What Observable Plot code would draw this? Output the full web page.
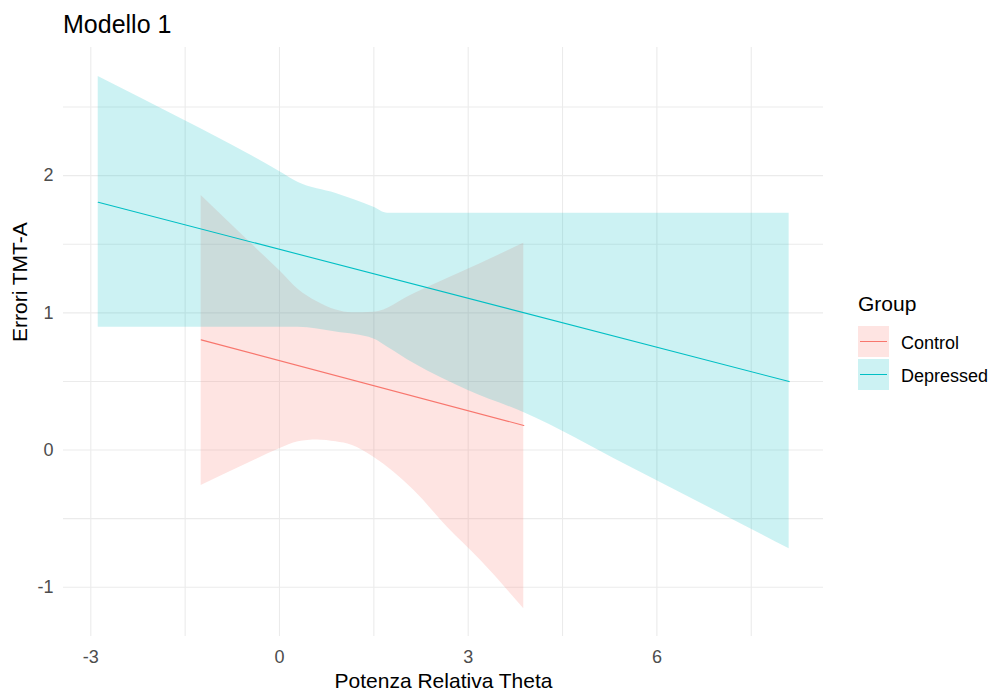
<!DOCTYPE html>
<html>
<head>
<meta charset="utf-8">
<script src="https://cdn.jsdelivr.net/npm/d3@7"></script>
<script src="https://cdn.jsdelivr.net/npm/@observablehq/plot@0.6"></script>
<style>
  html, body { margin: 0; padding: 0; background: #fff; }
  #chart { position: relative; width: 995px; height: 690px; font-family: "Liberation Sans", Arial, sans-serif; }
  #chart svg { position: absolute; left: 0; top: 0; }
  .title { position: absolute; left: 63px; top: 10px; font-size: 25px; color: #000; white-space: nowrap; }
  .legend-title { position: absolute; left: 858px; top: 292px; font-size: 21px; color: #000; }
  .key { position: absolute; left: 858px; width: 31px; height: 31px; }
  .key i { position: absolute; left: 2px; right: 2px; top: 15px; height: 1.2px; }
  .key-label { position: absolute; left: 901px; font-size: 18px; color: #000; white-space: nowrap; }
</style>
</head>
<body>
<div id="chart">
  <div class="title">Modello 1</div>
</div>
<script>
// Group names and colours (ggplot2 default hue palette)
const groups = ["Control", "Depressed"];
const groupColors = ["#F8766D", "#00BFC4"];

// Fitted regression lines: endpoints of each group's x range
const controlLineX = [-1.245, 3.884];
const controlLineY = [0.803, 0.179];
const depressedLineX = [-2.882, 8.103];
const depressedLineY = [1.806, 0.499];

// Confidence band, Control group
const controlBandX = [-1.245, -0.5, 0, 0.3, 0.6, 0.9, 1.15, 1.5, 2.14, 2.67, 3.2, 3.884];
const controlUpper = [1.855, 1.527, 1.308, 1.17, 1.08, 1.02, 1.0, 1.005, 1.14, 1.25, 1.36, 1.507];
const controlLower = [-0.259, -0.096, 0.009, 0.06, 0.074, 0.06, 0.035, -0.052, -0.295, -0.563, -0.805, -1.157];

// Confidence band, Depressed group
const depressedBandX = [-2.882, -1.5, -0.5, 0, 0.3, 0.9, 1.5, 1.72, 2.14, 3.0, 3.9, 5.5, 8.103];
const depressedUpper = [2.723, 2.40, 2.16, 2.03, 1.95, 1.87, 1.77, 1.726, 1.726, 1.726, 1.726, 1.726, 1.726];
const depressedLower = [0.895, 0.895, 0.895, 0.895, 0.895, 0.86, 0.81, 0.75, 0.63, 0.434, 0.27, -0.105, -0.72];

// Axis ticks and grid lines
const xTicks = [-3, 0, 3, 6];
const xGrid = [-3, -1.5, 0, 1.5, 3, 4.5, 6, 7.5];
const yTicks = [-1, 0, 1, 2];
const yGrid = [-1, -0.5, 0, 0.5, 1, 1.5, 2, 2.5];

const band = (xs, lo, hi) => xs.map((x, i) => ({x, lo: lo[i], hi: hi[i]}));
const line = (xs, ys) => xs.map((x, i) => ({x, y: ys[i]}));

const depBand = band(depressedBandX, depressedLower, depressedUpper);
const ctlBand = band(controlBandX, controlLower, controlUpper);
const depLine = line(depressedLineX, depressedLineY);
const ctlLine = line(controlLineX, controlLineY);

const font = "'Liberation Sans', Arial, sans-serif";
const fmt = d => String(d);

const plot = Plot.plot({
  width: 995,
  height: 690,
  marginLeft: 63,
  marginRight: 172,
  marginTop: 47,
  marginBottom: 54,
  x: {domain: [-3.434, 8.649]},
  y: {domain: [-1.359, 2.934]},
  style: {fontFamily: font, background: "transparent", overflow: "visible"},
  marks: [
    Plot.ruleX(xGrid, {stroke: "#ebebeb", strokeWidth: 1.1}),
    Plot.ruleY(yGrid, {stroke: "#ebebeb", strokeWidth: 1.1}),
    Plot.areaY(ctlBand, {x: "x", y1: "lo", y2: "hi", fill: groupColors[0], fillOpacity: 0.2, curve: "monotone-x"}),
    Plot.areaY(depBand, {x: "x", y1: "lo", y2: "hi", fill: groupColors[1], fillOpacity: 0.2, curve: "monotone-x"}),
    Plot.line(ctlLine, {x: "x", y: "y", stroke: groupColors[0], strokeWidth: 1.1}),
    Plot.line(depLine, {x: "x", y: "y", stroke: groupColors[1], strokeWidth: 1.1}),
    Plot.axisX(xTicks, {tickSize: 0, tickPadding: 14, fontSize: 18, color: "#4D4D4D", label: null, tickFormat: fmt}),
    Plot.axisY(yTicks, {tickSize: 0, tickPadding: 10, fontSize: 18, color: "#4D4D4D", label: null, tickFormat: fmt}),
    Plot.text(["Potenza Relativa Theta"], {frameAnchor: "bottom", dy: 51, fontSize: 21, fill: "#000", lineAnchor: "bottom"}),
    Plot.text(["Errori TMT-A"], {frameAnchor: "left", dx: -43, rotate: -90, fontSize: 21, fill: "#000"})
  ]
});

const chart = document.getElementById("chart");
chart.appendChild(plot);

// Legend
const legendTitle = document.createElement("div");
legendTitle.className = "legend-title";
legendTitle.textContent = "Group";
chart.appendChild(legendTitle);

const keyTops = [326, 359];
groups.forEach((g, i) => {
  const key = document.createElement("div");
  key.className = "key";
  key.style.top = keyTops[i] + "px";
  const c = d3.color(groupColors[i]);
  key.style.background = `rgba(${c.r},${c.g},${c.b},0.2)`;
  const ln = document.createElement("i");
  ln.style.background = groupColors[i];
  key.appendChild(ln);
  chart.appendChild(key);

  const lab = document.createElement("div");
  lab.className = "key-label";
  lab.style.top = (keyTops[i] + 7) + "px";
  lab.textContent = g;
  chart.appendChild(lab);
});
</script>
</body>
</html>
